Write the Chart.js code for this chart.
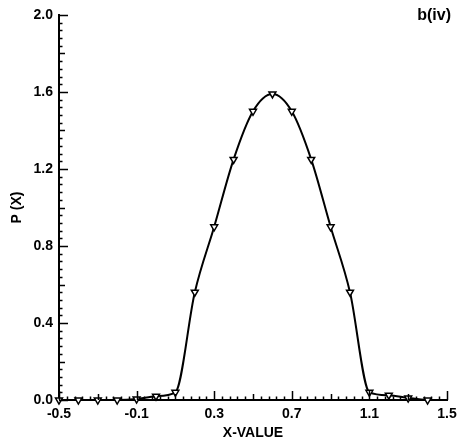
<!DOCTYPE html>
<html>
<head>
<meta charset="utf-8">
<script src="https://cdn.jsdelivr.net/npm/chart.js@4/dist/chart.umd.min.js"></script>
<style>
  html, body { margin: 0; padding: 0; background: #fff; }
  #wrap { width: 472px; height: 445px; }
</style>
</head>
<body>
<div id="wrap"><canvas id="chart-p" width="472" height="445"></canvas></div>
<script>
const xValues = [-0.5, -0.4, -0.3, -0.2, -0.1, 0.0, 0.1, 0.2, 0.3, 0.4, 0.5, 0.6, 0.7, 0.8, 0.9, 1.0, 1.1, 1.2, 1.3, 1.4];
const pValues = [0.0, 0.0, 0.0, 0.0, 0.005, 0.02, 0.04, 0.56, 0.90, 1.25, 1.50, 1.59, 1.50, 1.25, 0.90, 0.56, 0.04, 0.025, 0.01, 0.0];
const xTickLabels = [-0.5, -0.1, 0.3, 0.7, 1.1, 1.5];
const yTickLabels = [0.0, 0.4, 0.8, 1.2, 1.6, 2.0];
const panelLabel = 'b(iv)';

const fontFamily = '"Liberation Sans", Arial, sans-serif';

// marcas menores hacia adentro, cada 0.04
const innerTicks = {
    id: 'innerTicks',
    afterDraw(chart) {
        const ctx = chart.ctx;
        const xs = chart.scales.x;
        const ys = chart.scales.y;
        const area = chart.chartArea;
        ctx.save();
        ctx.strokeStyle = '#000';
        ctx.lineWidth = 1.5;
        ctx.beginPath();
        for (let k = 0; k <= 50; k++) {
            const len = k % 10 === 0 ? 9 : (k % 5 === 0 ? 6 : 3.5);
            const px = Math.round(xs.getPixelForValue(-0.5 + k * 0.04)) + 0.5;
            ctx.moveTo(px, area.bottom);
            ctx.lineTo(px, area.bottom - len);
            const py = Math.round(ys.getPixelForValue(k * 0.04)) + 0.5;
            ctx.moveTo(area.left, py);
            ctx.lineTo(area.left + len, py);
        }
        ctx.stroke();
        ctx.fillStyle = '#000';
        ctx.font = 'bold 16px ' + fontFamily;
        ctx.textAlign = 'right';
        ctx.textBaseline = 'middle';
        ctx.fillText(panelLabel, area.right + 4, area.top + 1);
        ctx.restore();
    }
};

const ctxP = document.getElementById('chart-p').getContext('2d');
const chartP = new Chart(ctxP, {
    type: 'line',
    data: {
        datasets: [{
            data: xValues.map((x, i) => ({ x: x, y: pValues[i] })),
            borderColor: '#000',
            borderWidth: 2,
            cubicInterpolationMode: 'monotone',
            pointStyle: 'triangle',
            rotation: 180,
            pointRadius: 4,
            pointBorderWidth: 1.5,
            pointBackgroundColor: '#fff',
            pointBorderColor: '#000',
            clip: false
        }]
    },
    options: {
        responsive: false,
        animation: false,
        layout: { padding: { top: 15, right: 25, left: 0, bottom: 0 } },
        plugins: {
            legend: { display: false },
            tooltip: { enabled: false }
        },
        scales: {
            x: {
                type: 'linear',
                min: -0.5,
                max: 1.5,
                afterBuildTicks: s => { s.ticks = xTickLabels.map(v => ({ value: v })); },
                afterFit: s => { s.height = 45; },
                grid: { display: false, drawTicks: false },
                border: { display: true, width: 2, color: '#000' },
                ticks: {
                    color: '#000',
                    padding: 6,
                    maxRotation: 0,
                    font: { family: fontFamily, size: 14, weight: 'bold' },
                    callback: v => v.toFixed(1)
                },
                title: {
                    display: true,
                    text: 'X-VALUE',
                    color: '#000',
                    padding: { top: 0, bottom: 3 },
                    font: { family: fontFamily, size: 14, weight: 'bold' }
                }
            },
            y: {
                min: 0,
                max: 2.0,
                afterBuildTicks: s => { s.ticks = yTickLabels.map(v => ({ value: v })); },
                afterFit: s => { s.width = 59; },
                grid: { display: false, drawTicks: false },
                border: { display: true, width: 2, color: '#000' },
                ticks: {
                    color: '#000',
                    padding: 6,
                    font: { family: fontFamily, size: 14, weight: 'bold' },
                    callback: v => v.toFixed(1)
                },
                title: {
                    display: true,
                    text: 'P (X)',
                    color: '#000',
                    padding: { top: 9, bottom: 0 },
                    font: { family: fontFamily, size: 14, weight: 'bold' }
                }
            }
        }
    },
    plugins: [innerTicks]
});
</script>
</body>
</html>
